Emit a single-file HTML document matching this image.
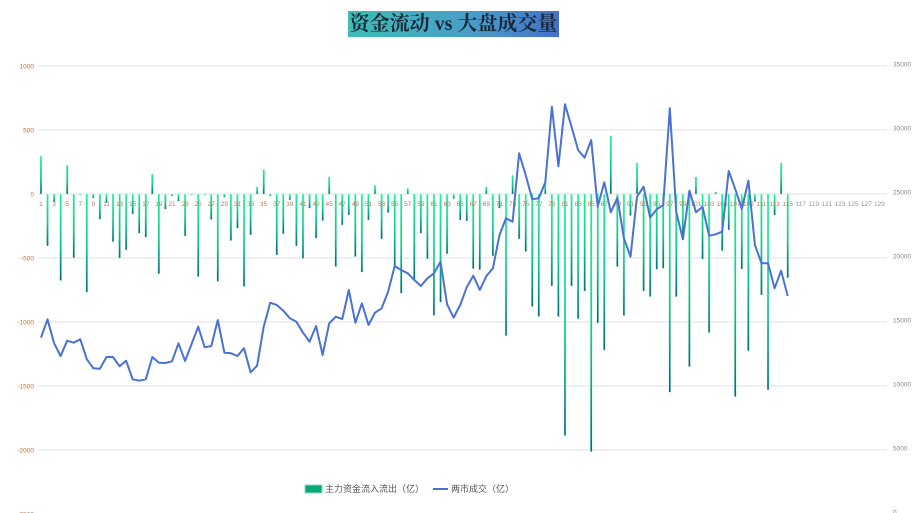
<!DOCTYPE html>
<html><head><meta charset="utf-8">
<style>
html,body{margin:0;padding:0;background:#fff;width:915px;height:513px;overflow:hidden}
#title{position:absolute;left:348px;top:11px;width:211px;height:26px;background:linear-gradient(90deg,#3dbdb5,#4a9cc8 60%,#4470c8);color:#1a2a3a;font:bold 20px "Liberation Serif","Noto Serif CJK SC",serif;text-align:center;line-height:26px;white-space:nowrap}
</style></head><body>
<div id="title">资金流动 vs 大盘成交量</div>
<svg id="chart" width="915" height="513" style="position:absolute;left:0;top:0">
<defs>
<linearGradient id="gdown" x1="0" y1="0" x2="0" y2="1"><stop offset="0" stop-color="#1ef09a"/><stop offset="0.55" stop-color="#10c890"/><stop offset="1" stop-color="#006a80"/></linearGradient>
<linearGradient id="gup" x1="0" y1="1" x2="0" y2="0"><stop offset="0" stop-color="#006a80"/><stop offset="0.45" stop-color="#10c890"/><stop offset="1" stop-color="#1ef09a"/></linearGradient>
</defs>
</svg>
<script>
const categories = Array.from({length:129},(_,i)=>String(i+1));
const flowValues = [296,-406,-60,-676,226,-500,-8,-767,-34,-198,-68,-374,-500,-437,-156,-307,-338,156,-624,-120,-16,-55,-328,-8,-645,-8,
-200,-684,-26,-364,-268,-723,-320,57,192,-16,-476,-312,-47,-406,-504,-112,-346,-208,135,-567,-242,-164,-489,-611,-203,68,
-351,-146,-580,-775,44,-671,-307,-507,-949,-845,-468,-36,-203,-211,-585,-593,57,-484,-112,-1108,148,-351,-450,-879,-957,
91,-719,-958,-1888,-719,-976,-758,-2013,-1008,-1219,456,-568,-950,-169,245,-758,-802,-589,-581,-1549,-802,
-350,-1349,135,-510,-1083,18,-443,-281,-1583,-586,-1226,-60,-789,-1531,-164,245,-654];
const volumeValues = [13617,15052,13177,12188,13383,13227,13490,11927,11224,11198,12109,12109,11380,11822,10365,10261,10365,12109,11666,11640,11770,13177,11796,13125,14479,12865,
12969,15000,12448,12396,12188,12786,10912,11432,14479,16354,16172,15729,15130,14870,14010,13307,14531,12266,14740,15260,15078,17344,14792,16302,14609,15573,
15911,17214,19219,18906,18646,18125,17656,18255,18646,19557,16224,15182,16172,17552,18464,17344,18437,19036,21641,22943,22682,28021,26328,24427,24505,
25755,31667,27005,31849,30104,28281,27682,29063,23854,25755,23411,24557,21380,19948,24635,25417,23000,23646,23984,31536,
23411,21302,25104,23411,23854,21589,21693,21901,26641,25208,23672,25885,20859,19427,19427,17474,18854,16875];
const leftTicks = [1000,500,0,-500,-1000,-1500,-2000,-2500];
const rightTicks = [35000,30000,25000,20000,15000,10000,5000,0];

const svg = document.getElementById('chart');
const NS='http://www.w3.org/2000/svg';
const X0=37.7, STEP=6.55, GX0=38, GX1=887;
const xPos = i => X0 + STEP*(i+0.5);
const yL = v => 194 - v*64/500;
const yR = v => 512 - v*64/5000;
function mk(tag, attrs){const e=document.createElementNS(NS,tag);for(const k in attrs)e.setAttribute(k,attrs[k]);svg.appendChild(e);return e;}

leftTicks.forEach((t,i)=>{
  const g=mk('line',{x1:GX0,x2:GX1,y1:yL(t),y2:yL(t),stroke:'#e2e2e2','stroke-width':1});
  
  
  const l=mk('text',{x:34,y:yL(t)+2.5,'text-anchor':'end','font-size':'6.5','fill':'#c8753a','font-family':'Liberation Sans, sans-serif'});
  l.textContent=t;
  
  
});
rightTicks.forEach(t=>{
  const l=mk('text',{x:893,y:yR(t)+2.5,'font-size':'6.5','fill':'#888','font-family':'Liberation Sans, sans-serif'});
  l.textContent=t;
  
  
});
flowValues.forEach((v,i)=>{
  const y0=yL(0), y1=yL(v);
  const r=mk('rect',{x:xPos(i)-1,y:Math.min(y0,y1),width:2,height:Math.max(0.8,Math.abs(y1-y0)),fill:v<0?'url(#gdown)':'url(#gup)',stroke:'#d4f7e4','stroke-width':0.4});
  
  
});
categories.forEach((c,i)=>{
  if(i%2) return;
  const l=mk('text',{x:xPos(i),y:206,'text-anchor':'middle','font-size':'6.5','fill':i<116?'#b0805a':'#999','font-family':'Liberation Sans, sans-serif'});
  l.textContent=c;
  
  
});
const pts=volumeValues.map((v,i)=>xPos(i).toFixed(1)+','+yR(v).toFixed(1)).join(' ');
const pl=mk('polyline',{points:pts,fill:'none',stroke:'#4a72d6','stroke-width':2,'stroke-linejoin':'round'});



const lg=mk('rect',{x:305,y:485,width:17,height:8,fill:'#0aa874',stroke:'#8ad8c8','stroke-width':1});


const lt=mk('text',{x:325,y:492,'font-size':'9','fill':'#555','font-family':'Liberation Sans, Noto Sans CJK SC, sans-serif'});
lt.textContent='主力资金流入流出（亿）';


const ll=mk('line',{x1:433,x2:448,y1:489,y2:489,stroke:'#4a72d6','stroke-width':2});


const lt2=mk('text',{x:451,y:492,'font-size':'9','fill':'#555','font-family':'Liberation Sans, Noto Sans CJK SC, sans-serif'});
lt2.textContent='两市成交（亿）';


</script>
</body></html>
